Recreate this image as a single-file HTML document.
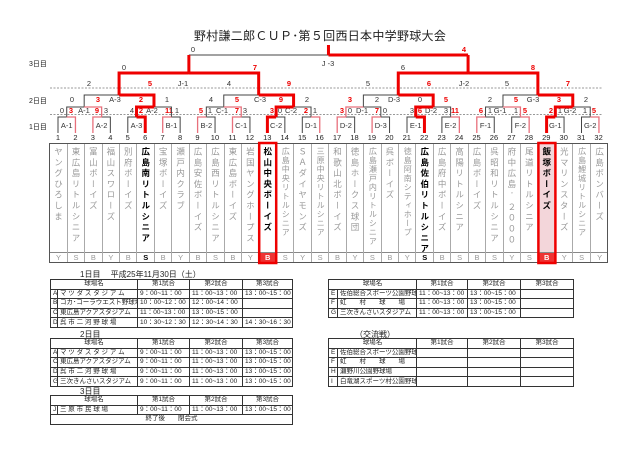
<!DOCTYPE html>
<html><head><meta charset="utf-8"><style>
*{margin:0;padding:0;box-sizing:border-box}
body{width:640px;height:451px;background:#fff;position:relative;overflow:hidden;font-family:"Liberation Sans","Noto Sans CJK JP",sans-serif;color:#222}
.abs{position:absolute}
#teams{position:absolute;left:49.3px;top:143px;width:558.4px;height:120px;display:flex;border:1px solid #555;overflow:hidden}
#teams>div{flex:0 0 17.45px;width:17.45px;border-right:1px solid #aaa;display:flex;flex-direction:column;overflow:hidden}
#teams>div:last-child{border-right:none}
.nm{height:108px;width:16px;writing-mode:vertical-rl;text-orientation:upright;white-space:nowrap;font-size:8.5px;letter-spacing:2.3px;line-height:16px;color:#999;padding-top:3px;margin:0 auto;overflow:hidden}
.nm.s{letter-spacing:1px;font-size:8px}
.lt{height:10px;border-top:1px solid #888;font-size:7.5px;line-height:10px;text-align:center;color:#999}
.b .nm,.b .lt{color:#000;font-weight:bold}
#nums{position:absolute;left:49.3px;top:133px;width:558.4px;display:flex;font-size:7.5px}
#nums span{flex:0 0 17.45px;text-align:center}
table{position:absolute;border-collapse:collapse;font-size:6.5px;table-layout:fixed}
td{border:0.8px solid #333;height:9.6px;padding:0 2px;white-space:nowrap;overflow:hidden;line-height:8px}
td.c{text-align:center}
.lbl{position:absolute;font-size:8px}
</style></head><body>
<div class="abs" style="left:0;width:640px;top:27px;text-align:center;font-size:12px;letter-spacing:0.3px">野村謙二郎ＣＵＰ･第５回西日本中学野球大会</div>

<div class="abs" style="left:29px;top:59px;font-size:7px">3日目</div>
<div class="abs" style="left:29px;top:96px;font-size:7px">2日目</div>
<div class="abs" style="left:29px;top:122px;font-size:7px">1日目</div>

<svg class="abs" style="left:0;top:0" width="640" height="451" id="br">
<line x1="50" y1="88" x2="603" y2="88" stroke="#777" stroke-width="0.8" stroke-dasharray="2,1.5"/>
<line x1="50" y1="114.5" x2="603" y2="114.5" stroke="#777" stroke-width="0.8" stroke-dasharray="2,1.5"/>
<g font-size="7.5" text-anchor="middle" font-family="Liberation Sans, Noto Sans CJK JP, sans-serif" fill="#333">
<text x="193" y="52">0</text><text x="464" y="52" fill="#e00" font-weight="bold">4</text><text x="328" y="66">J -3</text>
<text x="124" y="70">0</text><text x="255" y="70" fill="#e00" font-weight="bold">7</text><text x="403" y="70">6</text><text x="533" y="70" fill="#e00" font-weight="bold">8</text>
<text x="89" y="86">2</text><text x="150" y="86" fill="#e00" font-weight="bold">5</text><text x="183" y="86">J-1</text><text x="229" y="86">4</text><text x="289" y="86" fill="#e00" font-weight="bold">9</text>
<text x="368" y="86">5</text><text x="429" y="86" fill="#e00" font-weight="bold">6</text><text x="464" y="86">J-2</text><text x="507" y="86">5</text><text x="568" y="86" fill="#e00" font-weight="bold">7</text>
<g transform="translate(0,102)">
<text x="72">0</text><text x="98" fill="#e00" font-weight="bold">3</text><text x="115">A-3</text><text x="141" fill="#e00" font-weight="bold">2</text><text x="167">1</text>
<text x="211">4</text><text x="237" fill="#e00" font-weight="bold">5</text><text x="260">C-3</text><text x="281" fill="#e00" font-weight="bold">9</text><text x="307">2</text>
<text x="350" fill="#e00" font-weight="bold">3</text><text x="377">2</text><text x="394">D-3</text><text x="420">0</text><text x="446" fill="#e00" font-weight="bold">5</text>
<text x="490">2</text><text x="516" fill="#e00" font-weight="bold">5</text><text x="533">G-3</text><text x="559" fill="#e00" font-weight="bold">3</text><text x="586">2</text>
</g>
<g transform="translate(0,113)">
<text x="62">0</text><text x="71" fill="#e00" font-weight="bold">3</text><text x="84">A-1</text><text x="97" fill="#e00" font-weight="bold">9</text><text x="106">3</text>
<text x="132">4</text><text x="141" fill="#e00" font-weight="bold">2</text><text x="152">A-2</text><text x="169" fill="#e00" font-weight="bold">11</text><text x="177">1</text>
<text x="201" fill="#e00" font-weight="bold">5</text><text x="210">1</text><text x="222">C-1</text><text x="237" fill="#e00" font-weight="bold">7</text><text x="245">3</text>
<text x="272" fill="#e00" font-weight="bold">3</text><text x="280">0</text><text x="291">C-2</text><text x="306" fill="#e00" font-weight="bold">2</text><text x="315">1</text>
<text x="342" fill="#e00" font-weight="bold">3</text><text x="350">0</text><text x="362">D-1</text><text x="377" fill="#e00" font-weight="bold">7</text><text x="385">0</text>
<text x="412">3</text><text x="420" fill="#e00" font-weight="bold">6</text><text x="431">D-2</text><text x="446">3</text><text x="455" fill="#e00" font-weight="bold">11</text>
<text x="481" fill="#e00" font-weight="bold">6</text><text x="490">1</text><text x="500">G-1</text><text x="516">1</text><text x="525" fill="#e00" font-weight="bold">5</text>
<text x="551" fill="#e00" font-weight="bold">2</text><text x="560">1</text><text x="570">G-2</text><text x="585">1</text><text x="594" fill="#e00" font-weight="bold">5</text>
</g>
<g transform="translate(0,128)">
<text x="66.7">A-1</text><text x="101.6">A-2</text><text x="136.5">A-3</text><text x="171.4">B-1</text><text x="206.3">B-2</text><text x="241.2">C-1</text><text x="276.1">C-2</text><text x="311">D-1</text>
<text x="345.9">D-2</text><text x="380.8">D-3</text><text x="415.7">E-1</text><text x="450.6">E-2</text><text x="485.5">F-1</text><text x="520.4">F-2</text><text x="555.3">G-1</text><text x="590.2">G-2</text>
</g>
</g>
<g id="lines" fill="none"></g>
</svg>

<div id="nums"><span>1</span><span>2</span><span>3</span><span>4</span><span>5</span><span>6</span><span>7</span><span>8</span><span>9</span><span>10</span><span>11</span><span>12</span><span>13</span><span>14</span><span>15</span><span>16</span><span>17</span><span>18</span><span>19</span><span>20</span><span>21</span><span>22</span><span>23</span><span>24</span><span>25</span><span>26</span><span>27</span><span>28</span><span>29</span><span>30</span><span>31</span><span>32</span></div>

<div id="teams">
<div><div class="nm">ヤングひろしま</div><div class="lt">Y</div></div>
<div><div class="nm">東広島リトルシニア</div><div class="lt">S</div></div>
<div><div class="nm">富山ボーイズ</div><div class="lt">B</div></div>
<div><div class="nm">福山スワローズ</div><div class="lt">Y</div></div>
<div><div class="nm">別府ボーイズ</div><div class="lt">B</div></div>
<div class="b"><div class="nm">広島南リトルシニア</div><div class="lt">S</div></div>
<div><div class="nm">宝塚ボーイズ</div><div class="lt">B</div></div>
<div><div class="nm">瀬戸内クラブ</div><div class="lt">Y</div></div>
<div><div class="nm">広島安佐ボーイズ</div><div class="lt">B</div></div>
<div><div class="nm">広島西リトルシニア</div><div class="lt">S</div></div>
<div><div class="nm">東広島ボーイズ</div><div class="lt">B</div></div>
<div><div class="nm">岩国ヤングホープス</div><div class="lt">Y</div></div>
<div class="b"><div class="nm">松山中央ボーイズ</div><div class="lt" style="background:#e33;color:#fff">B</div></div>
<div><div class="nm s">広島中央リトルシニア</div><div class="lt">S</div></div>
<div><div class="nm">ＳＡダイヤモンズ</div><div class="lt">Y</div></div>
<div><div class="nm s">三原中央リトルシニア</div><div class="lt">S</div></div>
<div><div class="nm">和歌山北ボーイズ</div><div class="lt">B</div></div>
<div><div class="nm">徳島ホークス球団</div><div class="lt">Y</div></div>
<div><div class="nm s">広島瀬戸内リトルシニア</div><div class="lt">S</div></div>
<div><div class="nm">呉ボーイズ</div><div class="lt">B</div></div>
<div><div class="nm s">徳島阿南シティホープ</div><div class="lt">Y</div></div>
<div class="b"><div class="nm">広島佐伯リトルシニア</div><div class="lt">S</div></div>
<div><div class="nm">広島府中ボーイズ</div><div class="lt">B</div></div>
<div><div class="nm">高陽リトルシニア</div><div class="lt">S</div></div>
<div><div class="nm">広島ボーイズ</div><div class="lt">B</div></div>
<div><div class="nm">呉昭和リトルシニア</div><div class="lt">S</div></div>
<div><div class="nm">府中広島’２０００</div><div class="lt">Y</div></div>
<div><div class="nm">尾道リトルシニア</div><div class="lt">S</div></div>
<div class="b" style="background:#f3d6da"><div class="nm">飯塚ボーイズ</div><div class="lt" style="background:#e33;color:#fff">B</div></div>
<div><div class="nm">光マリンスターズ</div><div class="lt">Y</div></div>
<div><div class="nm s">広島鯉城リトルシニア</div><div class="lt">S</div></div>
<div><div class="nm">広島ボンバーズ</div><div class="lt">Y</div></div>
</div>
<svg class="abs" style="left:0;top:0" width="640" height="451">
<rect x="259.2" y="143" width="17" height="120" fill="none" stroke="#e00" stroke-width="2.5"/>
<rect x="538.4" y="143" width="17" height="120" fill="none" stroke="#e00" stroke-width="2.5"/>
</svg>

<div class="lbl" style="left:80px;top:269px">1日目　 平成25年11月30日（土）</div>
<table style="left:50px;top:279px;width:242px">
<colgroup><col style="width:7px"><col style="width:80px"><col style="width:52px"><col style="width:53px"><col style="width:50px"></colgroup>
<tr><td colspan="2" class="c">球場名</td><td class="c">第1試合</td><td class="c">第2試合</td><td class="c">第3試合</td></tr>
<tr><td>A</td><td>マ ツ ダ ス タ ジ ア ム</td><td>9：00~11：00</td><td>11：00~13：00</td><td>13：00~15：00</td></tr>
<tr><td>B</td><td>コカ･コーラウエスト野球場</td><td>10：00~12：00</td><td>12：00~14：00</td><td></td></tr>
<tr><td>C</td><td>東広島アクアスタジアム</td><td>11：00~13：00</td><td>13：00~15：00</td><td></td></tr>
<tr><td>D</td><td>呉 市 二 河 野 球 場</td><td>10：30~12：30</td><td>12：30~14：30</td><td>14：30~16：30</td></tr>
</table>
<div class="lbl" style="left:80px;top:329px">2日目</div>
<table style="left:50px;top:338px;width:242px">
<colgroup><col style="width:7px"><col style="width:80px"><col style="width:52px"><col style="width:53px"><col style="width:50px"></colgroup>
<tr><td colspan="2" class="c">球場名</td><td class="c">第1試合</td><td class="c">第2試合</td><td class="c">第3試合</td></tr>
<tr><td>A</td><td>マ ツ ダ ス タ ジ ア ム</td><td>9：00~11：00</td><td>11：00~13：00</td><td>13：00~15：00</td></tr>
<tr><td>C</td><td>東広島アクアスタジアム</td><td>9：00~11：00</td><td>11：00~13：00</td><td>13：00~15：00</td></tr>
<tr><td>D</td><td>呉 市 二 河 野 球 場</td><td>9：00~11：00</td><td>11：00~13：00</td><td>13：00~15：00</td></tr>
<tr><td>G</td><td>三次きんさいスタジアム</td><td>9：00~11：00</td><td>11：00~13：00</td><td>13：00~15：00</td></tr>
</table>
<div class="lbl" style="left:80px;top:386px">3日目</div>
<table style="left:50px;top:395px;width:242px">
<colgroup><col style="width:7px"><col style="width:80px"><col style="width:52px"><col style="width:53px"><col style="width:50px"></colgroup>
<tr><td colspan="2" class="c">球場名</td><td class="c">第1試合</td><td class="c">第2試合</td><td class="c">第3試合</td></tr>
<tr><td>J</td><td>三 原 市 民 球 場</td><td>9：00~11：00</td><td>11：00~13：00</td><td>13：00~15：00</td></tr>
<tr><td colspan="5" class="c">終了後　　閉会式</td></tr>
</table>

<table style="left:328px;top:279px;width:245px">
<colgroup><col style="width:9px"><col style="width:79px"><col style="width:51px"><col style="width:53px"><col style="width:53px"></colgroup>
<tr><td colspan="2" class="c">球場名</td><td class="c">第1試合</td><td class="c">第2試合</td><td class="c">第3試合</td></tr>
<tr><td>E</td><td>佐伯総合スポーツ公園野球場</td><td>11：00~13：00</td><td>13：00~15：00</td><td></td></tr>
<tr><td>F</td><td>虹　　村　　球　　場</td><td>11：00~13：00</td><td>13：00~15：00</td><td></td></tr>
<tr><td>G</td><td>三次きんさいスタジアム</td><td>11：00~13：00</td><td>13：00~15：00</td><td></td></tr>
</table>
<div class="lbl" style="left:355px;top:329px">（交流戦）</div>
<table style="left:328px;top:338px;width:245px">
<colgroup><col style="width:9px"><col style="width:79px"><col style="width:51px"><col style="width:53px"><col style="width:53px"></colgroup>
<tr><td colspan="2" class="c">球場名</td><td class="c">第1試合</td><td class="c">第2試合</td><td class="c">第3試合</td></tr>
<tr><td>E</td><td>佐伯総合スポーツ公園野球場</td><td></td><td></td><td></td></tr>
<tr><td>F</td><td>虹　　村　　球　　場</td><td></td><td></td><td></td></tr>
<tr><td>H</td><td>瀬野川公園野球場</td><td></td><td></td><td></td></tr>
<tr><td>I</td><td>白竜湖スポーツ村公園野球場</td><td></td><td></td><td></td></tr>
</table>

<script>
(function(){
var c=function(i){return 58+(i-1)*17.45;};
var tops=[117,107,95,73,55];
var winners=[[2,3,6,7,9,11,13,16,17,19,22,24,25,28,29,32],[3,6,11,13,17,22,28,29],[6,13,22,29],[13,29],[29]];
var thick={6:1,13:1,22:1,29:1};
var nodes=[];for(var i=1;i<=32;i++)nodes.push({x:c(i),y:133,w:i});
var dark=[],thin=[],thk=[];
for(var L=0;L<5;L++){
 var nx=[];
 for(var k=0;k<nodes.length/2;k++){
  var a=nodes[2*k],b=nodes[2*k+1],mid=(a.x+b.x)/2,t=tops[L],w=winners[L][k];
  [a,b].forEach(function(ch,idx){
   var leg='M'+ch.x+' '+ch.y+'V'+t, hz='M'+ch.x+' '+t+'H'+mid;
   if(L===4){thk.push(leg); if(idx===1)thk.push(hz); else dark.push(hz);}
   else if(thick[ch.w]){thk.push(leg+'H'+mid);}
   else if(ch.w===w){thin.push(leg+'H'+mid);}
   else dark.push(leg+'H'+mid);
  });
  nx.push({x:mid,y:t,w:w});
 }
 nodes=nx;
}
thk.push('M'+nodes[0].x+' 55V45');
var g=document.getElementById('lines');
function add(arr,col,wd){var p=document.createElementNS('http://www.w3.org/2000/svg','path');p.setAttribute('d',arr.join(' '));p.setAttribute('stroke',col);p.setAttribute('stroke-width',wd);p.setAttribute('fill','none');g.appendChild(p);}
add(dark,'#444',1);add(thin,'#e8707c',1.3);add(thk,'#e00',3);
})();
</script>
</body></html>
